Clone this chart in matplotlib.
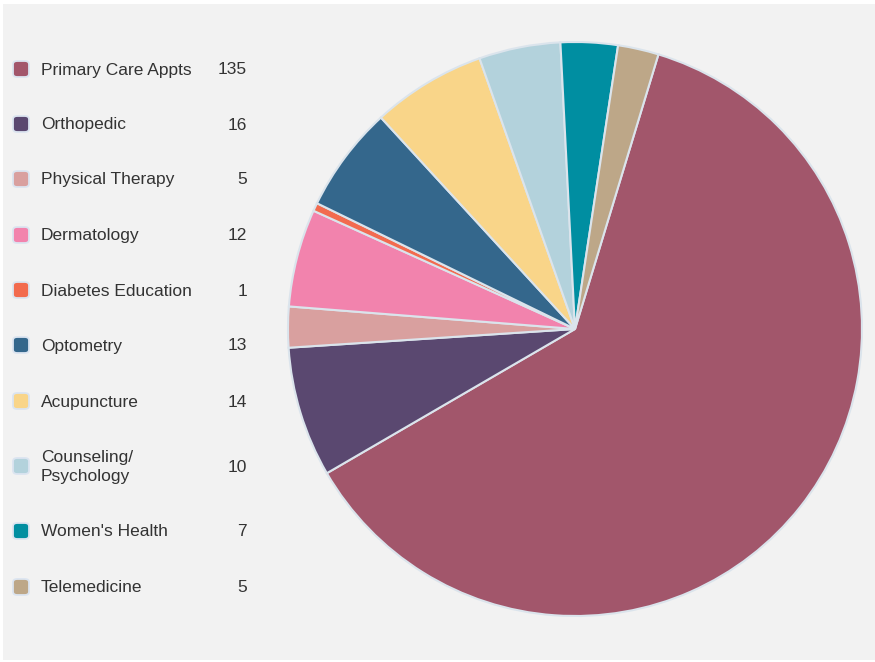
import matplotlib
matplotlib.use("Agg")
import matplotlib.pyplot as plt
from matplotlib.patches import FancyBboxPatch, Rectangle

labels = ["Primary Care Appts", "Orthopedic", "Physical Therapy", "Dermatology",
          "Diabetes Education", "Optometry", "Acupuncture", "Counseling/\nPsychology",
          "Women's Health", "Telemedicine"]
values = [135, 16, 5, 12, 1, 13, 14, 10, 7, 5]
colors = ["#a2566b", "#5a4870", "#d9a09f", "#f283ad", "#f26b4f",
          "#34678c", "#f9d589", "#b3d2dc", "#008ea1", "#bda788"]
legend_y = [69, 124, 179, 235, 290, 345, 401, 466, 531, 587]

W, H = 875, 662
fig = plt.figure(figsize=(W / 100, H / 100), dpi=100)
fig.patch.set_facecolor("white")
fig.patches.append(Rectangle((3 / W, 2 / H), (W - 3) / W, (H - 6) / H,
                             transform=fig.transFigure, facecolor="#f2f2f2",
                             edgecolor="none", zorder=-5))

# pie area: centre ~(575, 329), radius ~287 px
ax = fig.add_axes([288 / W, 1 - 616 / H, 574 / W, 574 / H], zorder=2)
ax.pie(values, colors=colors, startangle=73.1, counterclock=False,
       wedgeprops=dict(edgecolor="#dbe4ec", linewidth=1.5))
ax.set_xlim(-1.0, 1.0)
ax.set_ylim(-1.0, 1.0)
ax.set_aspect("equal")
ax.axis("off")

font = "Liberation Sans"
for lab, val, col, y in zip(labels, values, colors, legend_y):
    fy = 1 - (y + 1) / H
    box = FancyBboxPatch((13 / W, 1 - (y + 8) / H), 16 / W, 16 / H,
                         boxstyle="round,pad=0,rounding_size=0.005",
                         transform=fig.transFigure, facecolor=col,
                         edgecolor="#dbe4f0", linewidth=1.3, zorder=3)
    fig.patches.append(box)
    fig.text(41 / W, fy, lab, ha="left", va="center", fontsize=12.5,
             color="#333333", family=font, linespacing=1.3)
    fig.text(247 / W, fy, str(val), ha="right", va="center", fontsize=12.5,
             color="#333333", family=font)

fig.savefig("out.png", dpi=100)
